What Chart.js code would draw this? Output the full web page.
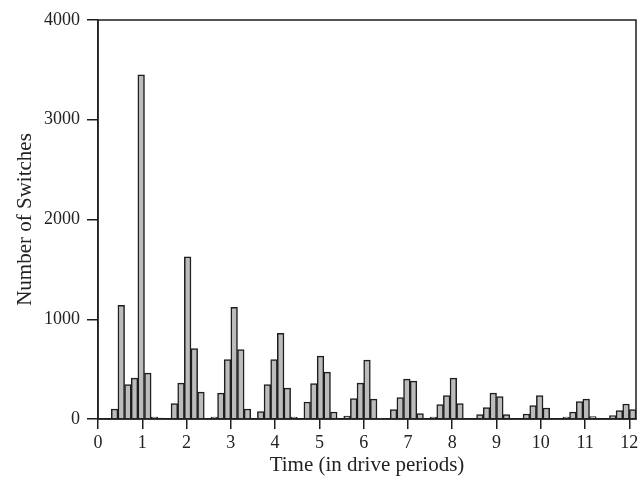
<!DOCTYPE html>
<html>
<head>
<meta charset="utf-8">
<script src="https://cdn.jsdelivr.net/npm/chart.js@4"></script>
<style>
    html, body { margin: 0; padding: 0; background: #fff; }
    #wrap { width: 642px; height: 483px; position: relative; }
</style>
</head>
<body>
<div id="wrap"><canvas id="grafico"></canvas></div>
<script>
// Histograma: bins de 0.15 período, começando em 0
const binWidth = 0.15;
const switchCounts = [
    0, 0, 100, 1140, 345, 410, 3450, 460, 20, 10,
    0, 155, 360, 1625, 705, 270, 0, 20, 260, 595,
    1120, 695, 100, 0, 75, 345, 595, 860, 310, 20,
    0, 170, 355, 630, 470, 70, 0, 30, 205, 360,
    590, 200, 5, 0, 95, 215, 400, 380, 55, 0,
    20, 145, 235, 410, 155, 0, 0, 45, 115, 260,
    225, 45, 0, 0, 50, 135, 235, 110, 0, 0,
    20, 70, 175, 200, 25, 0, 0, 35, 85, 150,
    95
];
const xTicks = [0, 1, 2, 3, 4, 5, 6, 7, 8, 9, 10, 11, 12];
const yTicks = [0, 1000, 2000, 3000, 4000];

const pontos = switchCounts.map((v, i) => ({ x: binWidth * (i + 0.5), y: v }));
const xMax = binWidth * switchCounts.length;

const fonteSerif = 'Liberation Serif';
const corLinha = '#1e1e1e';

// Moldura do gráfico (topo e direita)
const moldura = {
    id: 'moldura',
    afterDraw(chart) {
        const { ctx, chartArea } = chart;
        ctx.save();
        ctx.strokeStyle = corLinha;
        ctx.lineWidth = 1.5;
        ctx.strokeRect(chartArea.left, chartArea.top, chartArea.right - chartArea.left, chartArea.bottom - chartArea.top);
        ctx.restore();
    }
};

new Chart(document.getElementById('grafico').getContext('2d'), {
    type: 'bar',
    data: {
        datasets: [{
            data: pontos,
            backgroundColor: '#bcbcbc',
            borderColor: corLinha,
            borderWidth: 1.5,
            borderSkipped: 'start',
            barPercentage: 1,
            categoryPercentage: 1
        }]
    },
    options: {
        responsive: true,
        maintainAspectRatio: false,
        animation: false,
        layout: { padding: { top: 20, right: 6, left: 0, bottom: 0 } },
        plugins: {
            legend: { display: false },
            tooltip: { enabled: false }
        },
        scales: {
            x: {
                type: 'linear',
                min: 0,
                max: xMax,
                offset: false,
                afterBuildTicks: (scale) => { scale.ticks = xTicks.map(v => ({ value: v })); },
                afterFit: (scale) => { scale.height = 64; },
                grid: { drawOnChartArea: false, tickLength: 10, color: corLinha, lineWidth: 1.5, offset: false },
                border: { color: corLinha, width: 1.5 },
                ticks: {
                    color: '#222', padding: 3, maxRotation: 0,
                    font: { family: fonteSerif, size: 18 },
                    callback: (v) => String(v)
                },
                title: {
                    display: true,
                    text: 'Time (in drive periods)',
                    color: '#222',
                    font: { family: fonteSerif, size: 21 },
                    padding: { top: 0, bottom: 5 }
                }
            },
            y: {
                min: 0,
                max: 4000,
                afterBuildTicks: (scale) => { scale.ticks = yTicks.map(v => ({ value: v })); },
                afterFit: (scale) => { scale.width = 98; },
                grid: { drawOnChartArea: false, tickLength: 11, color: corLinha, lineWidth: 1.5 },
                border: { color: corLinha, width: 1.5 },
                ticks: {
                    color: '#222', padding: 7,
                    font: { family: fonteSerif, size: 18 },
                    callback: (v) => String(v)
                },
                title: {
                    display: true,
                    text: 'Number of Switches',
                    color: '#222',
                    font: { family: fonteSerif, size: 21 },
                    padding: { top: 13, bottom: 0 }
                }
            }
        }
    },
    plugins: [moldura]
});
</script>
</body>
</html>
